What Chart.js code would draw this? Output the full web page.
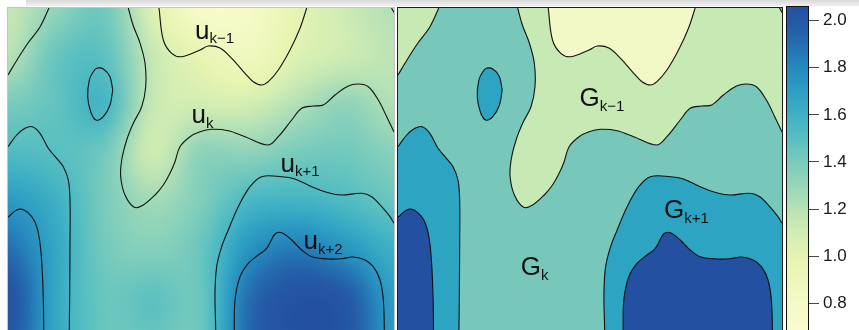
<!DOCTYPE html>
<html>
<head>
<meta charset="utf-8">
<script src="https://cdn.jsdelivr.net/npm/chart.js@4.4.1/dist/chart.umd.min.js"></script>
<style>
  html, body { margin: 0; padding: 0; background: #fff; width: 859px; height: 330px; overflow: hidden; }
  canvas { position: absolute; top: 0; }
  #band { position: absolute; left: 26px; top: 0; width: 833px; height: 6px; background: linear-gradient(#d9d9d9, #f0f0f0); }
</style>
</head>
<body>
<div id="band"></div>
<canvas id="fieldChart" width="396" height="400" style="left:0px"></canvas>
<canvas id="levelChart" width="392" height="400" style="left:396px"></canvas>
<canvas id="scaleChart" width="74" height="360" style="left:785px"></canvas>
<script>
// ---- Field samples on a regular grid (x across, y down, both 0..386) ----
const gridX = [0, 48.25, 96.5, 144.75, 193, 241.25, 289.5, 337.75, 386];
const gridY = [0, 48.25, 96.5, 144.75, 193, 241.25, 289.5, 337.75, 386];
const fieldValues = [
  [1.15, 1.32, 1.42, 1.05, 0.78, 0.80, 1.00, 1.12, 1.22],
  [1.20, 1.45, 1.48, 1.15, 0.98, 0.88, 1.05, 1.12, 1.18],
  [1.40, 1.47, 1.56, 1.15, 1.10, 1.10, 1.22, 1.32, 1.22],
  [1.53, 1.50, 1.42, 1.12, 1.33, 1.33, 1.40, 1.42, 1.35],
  [1.72, 1.60, 1.40, 1.27, 1.38, 1.55, 1.58, 1.53, 1.45],
  [1.90, 1.65, 1.42, 1.36, 1.45, 1.75, 1.85, 1.75, 1.60],
  [2.05, 1.65, 1.45, 1.48, 1.45, 1.90, 2.05, 2.00, 1.70],
  [2.00, 1.65, 1.45, 1.45, 1.45, 1.92, 2.06, 2.02, 1.72],
  [1.95, 1.62, 1.45, 1.45, 1.45, 1.90, 2.02, 2.00, 1.70]
];

// ---- Colour scale ----
const colorStops = [0.60, 0.80, 1.00, 1.10, 1.20, 1.30, 1.40, 1.50, 1.60, 1.70, 1.80, 1.90, 2.00, 2.10];
const colorHex   = ['#fbfdd6', '#f5fac6', '#e6f4b1', '#d2edb3', '#b8e2b5', '#97d6b9', '#79cbbc', '#58bfc1',
                    '#3fb0c4', '#2e9ec3', '#2689bd', '#246eb0', '#2458a5', '#234ea0'];
const tickValues = [0.8, 1.0, 1.2, 1.4, 1.6, 1.8, 2.0];

// ---- Contour lines (x across, y down) ----
const levelKm1 = [[151,0],[155.3,32],[163.7,45.3],[173.7,48.7],[192,42],[200.3,38],[212,40],[223.7,50.3],
  [237,65.3],[245.3,73.7],[253.7,77],[260.3,73.7],[270.3,62],[282,42],[292,20.3],[298.7,0]];
const levelKWest = [[41,0],[32,19],[20,35],[9,52],[0,67]];
const levelKMain = [[120.3,0],[125,17],[132,35],[137,55],[137.7,78.7],[133.7,98.7],[125.3,115.3],[118.7,132],
  [113.7,152],[112.7,168.7],[117,187],[126.3,199.3],[135.3,197],[147,187],[155.3,177],[162,165.3],[167,153.7],
  [172,138.7],[182,128.7],[192,123.7],[203.7,121.3],[220.3,122.7],[237,128.7],[260.3,137],[270.3,128.7],
  [283.7,112],[293.7,100.3],[305.3,98],[315.3,97],[327,87],[340.3,78],[350.3,76],[360.3,78.7],[370.3,92],
  [378.7,108.7],[386,124]];
const levelKCorner = [[383.5,0],[386,4.5]];
const levelKp1Spot = [[104.7,82],[102,97],[95.3,108.7],[88,112],[82.7,103.7],[79.7,88.7],[81.3,72],[85.3,63.7],
  [88.7,60.3],[95.3,61],[102,68.7],[104.7,82]];
const levelKp1West = [[0,138.7],[8.7,127],[17,120.3],[24.3,118.7],[32,125.3],[40.3,140.3],[48.7,150.3],
  [55.3,158.7],[60.3,172],[62,192],[62,235],[61.7,285],[61.3,322],[61,386]];
const levelKp1East = [[207.8,386],[207.7,322],[207,285.3],[208.7,258.7],[213.7,238.7],[220.3,222],[230.3,198.7],
  [242,178.7],[253.7,168.7],[273.7,168.7],[287,171],[303.7,178.7],[320.3,184.7],[333.7,187],[353.7,185.3],
  [363.7,188.7],[373.7,198.7],[382,208.7],[386,215.3]];
const levelKp2West = [[0,209.3],[8.7,202],[16,202],[23.7,208.7],[28.7,218.7],[32,235.3],[34,258.7],[35.3,292],
  [35.7,322],[36,386]];
const levelKp2East = [[226,386],[226.3,322],[227,292],[232,268.7],[240.3,255.3],[250.3,247],[258.7,240.3],
  [267,226],[273.7,224.7],[283.7,232],[293.7,242],[303.7,248.7],[320.3,251],[333.7,250.7],[345.3,249],
  [357,252],[365.3,258.7],[372,272],[375.3,292],[376.3,322],[376.5,386]];

const contours = [levelKm1, levelKWest, levelKMain, levelKCorner, levelKp1Spot,
                  levelKp1West, levelKp1East, levelKp2West, levelKp2East];

// Filled bands of the level panel: which contour bounds them, the frame corners that close them, colour
const bandBase = '#77c8bb';
const bands = [
  { line: 1, corners: [[0, 0]],     color: '#c7e9b4' },
  { line: 2, corners: [[386, 0]],   color: '#c7e9b4' },
  { line: 3, corners: [[386, 0]],   color: '#77c8bb' },
  { line: 0, corners: [],           color: '#f3f9c6' },
  { line: 4, corners: [],           color: '#2ea4c3' },
  { line: 5, corners: [[0, 386]],   color: '#2ea4c3' },
  { line: 6, corners: [[386, 386]], color: '#2ea4c3' },
  { line: 7, corners: [[0, 386]],   color: '#2350a1' },
  { line: 8, corners: [],           color: '#2350a1' }
];

// Text labels: symbol, subscript, anchor (x, baseline)
const fieldLabels = [
  { main: 'u', sub: 'k\u22121', x: 187,   y: 30.5 },
  { main: 'u', sub: 'k',        x: 183.5, y: 115.3 },
  { main: 'u', sub: 'k+1',      x: 272.5, y: 163.7 },
  { main: 'u', sub: 'k+2',      x: 295.5, y: 241.3 }
];
const levelLabels = [
  { main: 'G', sub: 'k\u22121', x: 182.5, y: 98 },
  { main: 'G', sub: 'k+1',      x: 267.5, y: 210.3 },
  { main: 'G', sub: 'k',        x: 123.5, y: 267 }
];

const FONT = '"Liberation Sans", Arial, Helvetica, sans-serif';

// ---- helpers ----
const stopRGB = colorHex.map(h => [parseInt(h.slice(1, 3), 16), parseInt(h.slice(3, 5), 16), parseInt(h.slice(5, 7), 16)]);
function colorFor(v) {
  if (v <= colorStops[0]) return stopRGB[0];
  const n = colorStops.length;
  if (v >= colorStops[n - 1]) return stopRGB[n - 1];
  let i = 0;
  while (v > colorStops[i + 1]) i++;
  const t = (v - colorStops[i]) / (colorStops[i + 1] - colorStops[i]);
  const a = stopRGB[i], b = stopRGB[i + 1];
  return [a[0] + (b[0] - a[0]) * t, a[1] + (b[1] - a[1]) * t, a[2] + (b[2] - a[2]) * t];
}
function locate(grid, v) {
  let i = 0;
  while (i < grid.length - 2 && v > grid[i + 1]) i++;
  const t = Math.max(0, Math.min(1, (v - grid[i]) / (grid[i + 1] - grid[i])));
  return [i, t];
}
function cr(p0, p1, p2, p3, t) {
  return p1 + 0.5 * t * (p2 - p0 + t * (2 * p0 - 5 * p1 + 4 * p2 - p3 + t * (3 * (p1 - p2) + p3 - p0)));
}
function sampleField(vx, vy) {
  const [i, tx] = locate(gridX, vx);
  const [j, ty] = locate(gridY, vy);
  const nx = gridX.length, ny = gridY.length;
  const cl = (k, n) => Math.max(0, Math.min(n - 1, k));
  const rows = [];
  for (let dj = -1; dj <= 2; dj++) {
    const r = fieldValues[cl(j + dj, ny)];
    rows.push(cr(r[cl(i - 1, nx)], r[cl(i, nx)], r[cl(i + 1, nx)], r[cl(i + 2, nx)], tx));
  }
  return cr(rows[0], rows[1], rows[2], rows[3], ty);
}

function contourDatasets() {
  return contours.map(c => ({
    data: c.map(([x, y]) => ({ x, y })),
    showLine: true,
    borderColor: '#111',
    borderWidth: 1.1,
    pointRadius: 0,
    pointHoverRadius: 0,
    tension: 0.35,
    fill: false
  }));
}

function panelOptions(padding) {
  return {
    responsive: false,
    animation: false,
    events: [],
    layout: { padding },
    plugins: { legend: { display: false }, tooltip: { enabled: false } },
    scales: {
      x: { type: 'linear', min: 0, max: 386, display: false },
      y: { type: 'linear', min: 0, max: 386, reverse: true, display: false }
    }
  };
}

function drawLabels(chart, labels) {
  const { ctx, scales: { x, y } } = chart;
  ctx.save();
  ctx.fillStyle = '#111';
  ctx.textBaseline = 'alphabetic';
  ctx.textAlign = 'left';
  labels.forEach(l => {
    const px = x.getPixelForValue(l.x), py = y.getPixelForValue(l.y);
    ctx.font = '26px ' + FONT;
    ctx.fillText(l.main, px, py);
    const w = ctx.measureText(l.main).width;
    ctx.font = '15px ' + FONT;
    ctx.fillText(l.sub, px + w, py + 4.5);
  });
  ctx.restore();
}

// ---- Left: continuous field with contour lines ----
const heatmapPlugin = {
  id: 'heatmap',
  beforeDatasetsDraw(chart) {
    const { ctx, chartArea: a, scales: { x, y } } = chart;
    const w = Math.round(a.right - a.left), h = Math.round(a.bottom - a.top);
    const off = document.createElement('canvas');
    off.width = w; off.height = h;
    const octx = off.getContext('2d');
    const img = octx.createImageData(w, h);
    for (let j = 0; j < h; j++) {
      const vy = y.getValueForPixel(a.top + j + 0.5);
      for (let i = 0; i < w; i++) {
        const vx = x.getValueForPixel(a.left + i + 0.5);
        const c = colorFor(sampleField(vx, vy));
        const k = (j * w + i) * 4;
        img.data[k] = c[0]; img.data[k + 1] = c[1]; img.data[k + 2] = c[2]; img.data[k + 3] = 255;
      }
    }
    octx.putImageData(img, 0, 0);
    ctx.drawImage(off, a.left, a.top);
  },
  afterDatasetsDraw(chart) {
    drawLabels(chart, fieldLabels);
    const { ctx, chartArea: a } = chart;
    ctx.save();
    ctx.strokeStyle = '#c4c4c4';
    ctx.lineWidth = 1;
    ctx.strokeRect(a.left - 0.5, a.top - 0.5, a.right - a.left + 1, a.bottom - a.top + 1);
    ctx.restore();
  }
};

new Chart(document.getElementById('fieldChart'), {
  type: 'scatter',
  data: { datasets: contourDatasets() },
  options: panelOptions({ left: 8, top: 8, right: 2, bottom: 6 }),
  plugins: [heatmapPlugin]
});

// ---- Right: filled level bands ----
const bandPlugin = {
  id: 'bands',
  beforeDatasetsDraw(chart) {
    const { ctx, chartArea: a, scales: { x, y } } = chart;
    ctx.save();
    ctx.beginPath();
    ctx.rect(a.left, a.top, a.right - a.left, a.bottom - a.top);
    ctx.clip();
    ctx.fillStyle = bandBase;
    ctx.fillRect(a.left, a.top, a.right - a.left, a.bottom - a.top);
    bands.forEach(b => {
      const meta = chart.getDatasetMeta(b.line);
      meta.dataset.updateControlPoints(a, 'x');
      const pts = meta.data;
      ctx.beginPath();
      ctx.moveTo(pts[0].x, pts[0].y);
      for (let k = 1; k < pts.length; k++) {
        const p = pts[k - 1], q = pts[k];
        if (p.cp2x === undefined || q.cp1x === undefined) ctx.lineTo(q.x, q.y);
        else ctx.bezierCurveTo(p.cp2x, p.cp2y, q.cp1x, q.cp1y, q.x, q.y);
      }
      b.corners.forEach(([cx, cy]) => ctx.lineTo(x.getPixelForValue(cx), y.getPixelForValue(cy)));
      ctx.closePath();
      ctx.fillStyle = b.color;
      ctx.fill();
    });
    ctx.restore();
  },
  afterDatasetsDraw(chart) {
    drawLabels(chart, levelLabels);
    const { ctx, chartArea: a } = chart;
    ctx.save();
    ctx.strokeStyle = '#1e1e1e';
    ctx.lineWidth = 1;
    ctx.strokeRect(a.left - 0.5, a.top - 0.5, a.right - a.left + 1, a.bottom - a.top + 1);
    ctx.restore();
  }
};

new Chart(document.getElementById('levelChart'), {
  type: 'scatter',
  data: { datasets: contourDatasets() },
  options: panelOptions({ left: 2, top: 8, right: 6, bottom: 6 }),
  plugins: [bandPlugin]
});

// ---- Colour bar ----
const colorbarPlugin = {
  id: 'colorbar',
  beforeDatasetsDraw(chart) {
    const { ctx, chartArea: a, scales: { y } } = chart;
    ctx.save();
    for (let py = Math.floor(a.top); py < a.bottom; py++) {
      const c = colorFor(y.getValueForPixel(py + 0.5));
      ctx.fillStyle = `rgb(${Math.round(c[0])},${Math.round(c[1])},${Math.round(c[2])})`;
      ctx.fillRect(a.left, py, a.right - a.left, 1);
    }
    ctx.strokeStyle = '#111';
    ctx.lineWidth = 1;
    ctx.strokeRect(a.left - 0.5, a.top - 0.5, a.right - a.left + 1, a.bottom - a.top + 1);
    ctx.restore();
  }
};

new Chart(document.getElementById('scaleChart'), {
  type: 'scatter',
  data: { datasets: [] },
  options: {
    responsive: false,
    animation: false,
    events: [],
    layout: { padding: { left: 2, top: 7, right: 0, bottom: 9.6 } },
    plugins: { legend: { display: false }, tooltip: { enabled: false } },
    scales: {
      x: { type: 'linear', display: false },
      y: {
        type: 'linear',
        position: 'right',
        min: 0.6,
        max: 2.058,
        afterBuildTicks: s => { s.ticks = tickValues.map(v => ({ value: v })); },
        afterFit: s => { s.width = 51; s.paddingTop = 0; s.paddingBottom = 0; },
        grid: { drawOnChartArea: false, drawTicks: true, tickLength: 11, color: '#444', lineWidth: 1 },
        border: { display: false },
        ticks: {
          padding: 4,
          color: '#1a1a1a',
          font: { family: FONT, size: 17 },
          callback: v => Number(v).toFixed(1)
        }
      }
    }
  },
  plugins: [colorbarPlugin]
});
</script>
</body>
</html>
